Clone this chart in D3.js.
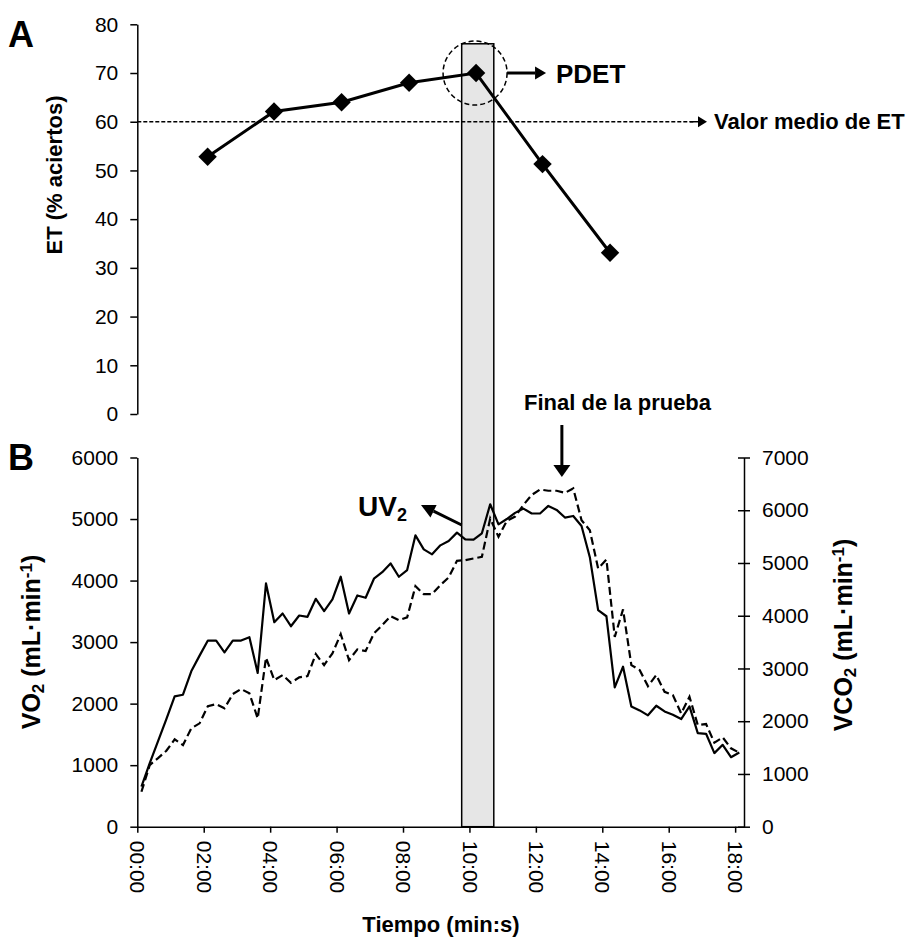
<!DOCTYPE html>
<html>
<head>
<meta charset="utf-8">
<script src="https://d3js.org/d3.v7.min.js"></script>
<style>
  body { margin: 0; background: #fff; }
  svg { font-family: "Liberation Sans", Arial, sans-serif; }
  .axis path, .axis line { stroke: #000; stroke-width: 1.5; }
  .axis text { font-size: 21px; fill: #000; }
</style>
</head>
<body>
<svg id="chart" width="907" height="940"></svg>
<script>
// panel A: ET (% aciertos) at each stage
var tiempoET = [127, 247, 369, 491, 612, 732, 854]; // seconds
var et = [52.8, 62.1, 64.0, 68.0, 70.0, 51.3, 33.1];
var etMedio = 60;

// panel B: gas exchange, one sample every 15 s
var tiempoSeg = [7.5, 22.5, 37.5, 52.5, 67.5, 82.5, 97.5, 112.5, 127.5, 142.5,
  157.5, 172.5, 187.5, 202.5, 217.5, 232.5, 247.5, 262.5, 277.5, 292.5,
  307.5, 322.5, 337.5, 352.5, 367.5, 382.5, 397.5, 412.5, 427.5, 442.5,
  457.5, 472.5, 487.5, 502.5, 517.5, 532.5, 547.5, 562.5, 577.5, 592.5,
  607.5, 622.5, 637.5, 652.5, 667.5, 682.5, 697.5, 712.5, 727.5, 742.5,
  757.5, 772.5, 787.5, 802.5, 817.5, 832.5, 847.5, 862.5, 877.5, 892.5,
  907.5, 922.5, 937.5, 952.5, 967.5, 982.5, 997.5, 1012.5, 1027.5, 1042.5,
  1057.5, 1072.5, 1087.5];
var vo2 = [651, 1033, 1390, 1750, 2118, 2145, 2525, 2780, 3025, 3025,
  2834, 3025, 3025, 3079, 2499, 3953, 3323, 3465, 3258, 3432,
  3411, 3704, 3502, 3693, 4062, 3465, 3758, 3720, 4030, 4137,
  4279, 4062, 4170, 4735, 4507, 4426, 4572, 4642, 4779, 4670,
  4665, 4768, 5240, 4914, 5000, 5100, 5170, 5090, 5090, 5213,
  5148, 5024, 5050, 4887, 4380, 3520, 3420, 2265, 2600, 1955,
  1890, 1810, 1966, 1873, 1819, 1749, 1955, 1521, 1510, 1196,
  1331, 1130, 1205];
var vco2 = [663, 1169, 1300, 1440, 1656, 1548, 1865, 1960, 2287, 2325,
  2244, 2515, 2610, 2528, 2054, 3203, 2780, 2875, 2729, 2831,
  2856, 3273, 3064, 3286, 3652, 3159, 3362, 3330, 3665, 3822,
  3993, 3917, 3968, 4561, 4410, 4410, 4580, 4726, 5041, 5054,
  5086, 5117, 5844, 5496, 5800, 5880, 6100, 6290, 6394, 6370,
  6370, 6330, 6413, 5812, 5622, 4897, 5067, 3600, 4120, 3064,
  2970, 2666, 2875, 2558, 2496, 2149, 2464, 1927, 1946, 1592,
  1694, 1486, 1402];

var xTicks = [0, 120, 240, 360, 480, 600, 720, 840, 960, 1080];
var etTicks = [0, 10, 20, 30, 40, 50, 60, 70, 80];
var vo2Ticks = [0, 1000, 2000, 3000, 4000, 5000, 6000];
var vco2Ticks = [0, 1000, 2000, 3000, 4000, 5000, 6000, 7000];

// UV2 window (s), final of the test (s)
var uv2Inicio = 586, uv2Fin = 644, etBanda = 76;
var finalPrueba = 767;

var svg = d3.select("#chart");

var x = d3.scaleLinear().domain([0, 1096]).range([137.3, 744]);
var yET = d3.scaleLinear().domain([0, 80]).range([414, 24.3]);
var yVO2 = d3.scaleLinear().domain([0, 6000]).range([826.7, 457.5]);
var yVCO2 = d3.scaleLinear().domain([0, 7000]).range([826.7, 457.5]);
var fmtNum = d3.format("d");

function fmtTiempo(s) {
  var m = Math.floor(s / 60), ss = s % 60;
  return (m < 10 ? "0" : "") + m + ":" + (ss < 10 ? "0" : "") + ss;
}

function arrow(x1, y1, x2, y2, len, half, w) {
  var a = Math.atan2(y2 - y1, x2 - x1);
  var bx = x2 - len * Math.cos(a), by = y2 - len * Math.sin(a);
  svg.append("line").attr("x1", x1).attr("y1", y1).attr("x2", bx).attr("y2", by)
    .attr("stroke", "#000").attr("stroke-width", w);
  var px = -Math.sin(a) * half, py = Math.cos(a) * half;
  svg.append("path")
    .attr("d", "M" + x2 + "," + y2 + "L" + (bx + px) + "," + (by + py) + "L" + (bx - px) + "," + (by - py) + "Z")
    .attr("fill", "#000");
}

// gray UV2 band across both panels
svg.append("rect")
  .attr("x", x(uv2Inicio)).attr("y", yET(etBanda))
  .attr("width", x(uv2Fin) - x(uv2Inicio)).attr("height", yVO2(0) - yET(etBanda))
  .attr("fill", "#e6e6e6").attr("stroke", "#000").attr("stroke-width", 1.5);

// ---------- panel A ----------
svg.append("g").attr("class", "axis")
  .attr("transform", "translate(" + x(0) + ",0)")
  .call(d3.axisLeft(yET).tickValues(etTicks).tickFormat(fmtNum).tickSize(7).tickSizeOuter(0).tickPadding(12));

svg.append("line")
  .attr("x1", x(0)).attr("x2", 695).attr("y1", yET(etMedio)).attr("y2", yET(etMedio))
  .attr("stroke", "#000").attr("stroke-width", 1.5).attr("stroke-dasharray", "4,2");
arrow(690, yET(etMedio), 707, yET(etMedio), 9, 5.5, 1.5);
svg.append("text").attr("x", 714).attr("y", yET(etMedio) + 7.5)
  .attr("font-size", 22).attr("font-weight", "bold").text("Valor medio de ET");

var etPts = tiempoET.map(function (t, i) { return [x(t), yET(et[i])]; });
svg.append("path").datum(etPts)
  .attr("d", d3.line())
  .attr("fill", "none").attr("stroke", "#000").attr("stroke-width", 3);
svg.selectAll(".diam").data(etPts).enter().append("path")
  .attr("class", "diam")
  .attr("transform", function (d) { return "translate(" + d[0] + "," + d[1] + ") rotate(45)"; })
  .attr("d", d3.symbol().type(d3.symbolSquare).size(170))
  .attr("fill", "#000");

// PDET circle and arrow
var pk = etPts[4];
svg.append("circle").attr("cx", pk[0] - 1).attr("cy", pk[1]).attr("r", 32)
  .attr("fill", "none").attr("stroke", "#000").attr("stroke-width", 1.5)
  .attr("stroke-dasharray", "5,3");
arrow(pk[0] + 31, pk[1], pk[0] + 70, pk[1], 11, 6.5, 3);
svg.append("text").attr("x", 556).attr("y", pk[1] + 9.5)
  .attr("font-size", 26).attr("font-weight", "bold").text("PDET");

svg.append("text")
  .attr("transform", "translate(62,175) rotate(-90)")
  .attr("text-anchor", "middle").attr("font-size", 22).attr("font-weight", "bold")
  .text("ET (% aciertos)");

// ---------- panel B ----------
var gx = svg.append("g").attr("class", "axis")
  .attr("transform", "translate(0," + yVO2(0) + ")")
  .call(d3.axisBottom(x).tickValues(xTicks).tickFormat(fmtTiempo).tickSize(6).tickSizeOuter(0));
gx.selectAll("text")
  .attr("transform", "rotate(90)")
  .attr("x", 14).attr("y", 0).attr("dy", "0.35em")
  .style("text-anchor", "start");

svg.append("g").attr("class", "axis")
  .attr("transform", "translate(" + x(0) + ",0)")
  .call(d3.axisLeft(yVO2).tickValues(vo2Ticks).tickFormat(fmtNum).tickSize(7).tickSizeOuter(0).tickPadding(12));

var gr = svg.append("g").attr("class", "axis")
  .attr("transform", "translate(744,0)")
  .call(d3.axisRight(yVCO2).tickValues(vco2Ticks).tickFormat(fmtNum).tickSize(6).tickSizeOuter(0).tickPadding(12));
gr.selectAll(".tick line").attr("x1", -6);

var lineVO2 = d3.line().x(function (d, i) { return x(tiempoSeg[i]); }).y(function (d) { return yVO2(d); });
var lineVCO2 = d3.line().x(function (d, i) { return x(tiempoSeg[i]); }).y(function (d) { return yVCO2(d); });

svg.append("path").datum(vco2).attr("d", lineVCO2)
  .attr("fill", "none").attr("stroke", "#000").attr("stroke-width", 2.2)
  .attr("stroke-dasharray", "8,4");
svg.append("path").datum(vo2).attr("d", lineVO2)
  .attr("fill", "none").attr("stroke", "#000").attr("stroke-width", 2.2)
  .attr("stroke-linejoin", "round");

// annotations
svg.append("text").attr("x", 524).attr("y", 410)
  .attr("font-size", 22).attr("font-weight", "bold").text("Final de la prueba");
arrow(x(finalPrueba), 425, x(finalPrueba), 477, 12, 8.5, 3);

arrow(x(uv2Inicio), 525, 421, 505, 14, 7, 3);
var uv = svg.append("text").attr("x", 358).attr("y", 516)
  .attr("font-size", 28).attr("font-weight", "bold");
uv.append("tspan").text("UV");
uv.append("tspan").attr("font-size", 18).attr("dy", 5).text("2");

function unidades(t, base, sub) {
  t.append("tspan").text(base);
  t.append("tspan").attr("font-size", "0.68em").attr("dy", "0.25em").text(sub);
  t.append("tspan").attr("dy", "-0.17em").text(" (mL·min");
  t.append("tspan").attr("font-size", "0.68em").attr("dy", "-0.5em").text("-1");
  t.append("tspan").attr("dy", "0.34em").text(")");
}
unidades(svg.append("text")
  .attr("transform", "translate(40,642) rotate(-90)")
  .attr("text-anchor", "middle").attr("font-size", 25).attr("font-weight", "bold"), "VO", "2");
unidades(svg.append("text")
  .attr("transform", "translate(852,635) rotate(-90)")
  .attr("text-anchor", "middle").attr("font-size", 25).attr("font-weight", "bold"), "VCO", "2");

svg.append("text").attr("x", 441).attr("y", 932)
  .attr("text-anchor", "middle").attr("font-size", 22).attr("font-weight", "bold")
  .text("Tiempo (min:s)");

svg.append("text").attr("x", 8).attr("y", 47)
  .attr("font-size", 36).attr("font-weight", "bold").text("A");
svg.append("text").attr("x", 8).attr("y", 470)
  .attr("font-size", 36).attr("font-weight", "bold").text("B");
</script>
</body>
</html>
